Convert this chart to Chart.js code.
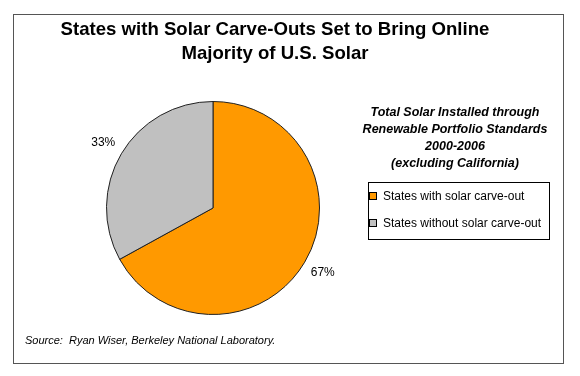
<!DOCTYPE html>
<html>
<head>
<meta charset="utf-8">
<script src="https://cdn.jsdelivr.net/npm/chart.js@4.4.1/dist/chart.umd.min.js"></script>
<style>
  html, body { margin: 0; padding: 0; background: #fff; }
  #wrap { width: 580px; height: 376px; position: relative; }
</style>
</head>
<body>
<div id="wrap"><canvas id="pie" width="580" height="376"></canvas></div>
<script>
// chart data
const categories = ['States with solar carve-out', 'States without solar carve-out'];
const shares = [67, 33];
const sliceColors = ['#FF9900', '#C0C0C0'];
const titleLines = ['States with Solar Carve-Outs Set to Bring Online', 'Majority of U.S. Solar'];
const noteLines = ['Total Solar Installed through', 'Renewable Portfolio Standards', '2000-2006', '(excluding California)'];
const sourceText = 'Source:  Ryan Wiser, Berkeley National Laboratory.';

const FONT = '"Liberation Sans", Arial, sans-serif';

// draws frame, titles, legend and percent labels
const decorations = {
  id: 'decorations',
  beforeDraw(chart) {
    const c = chart.ctx;
    c.save();
    c.fillStyle = '#fff';
    c.fillRect(0, 0, chart.width, chart.height);
    c.strokeStyle = '#555';
    c.lineWidth = 1;
    c.strokeRect(13.5, 14.5, 550, 349);
    c.restore();
  },
  afterDraw(chart) {
    const c = chart.ctx;
    c.save();
    c.fillStyle = '#000';
    c.textAlign = 'center';
    c.textBaseline = 'middle';

    // title
    c.font = 'bold 18.6px ' + FONT;
    titleLines.forEach((t, i) => c.fillText(t, 275, 30 + i * 24));

    // note
    c.font = 'italic bold 12.5px ' + FONT;
    noteLines.forEach((t, i) => c.fillText(t, 455, 113 + i * 17));

    // legend
    c.strokeStyle = '#000';
    c.lineWidth = 1;
    c.strokeRect(368.5, 182.5, 181, 57);
    c.font = '12px ' + FONT;
    c.textAlign = 'left';
    categories.forEach((name, i) => {
      const y = 196 + i * 27;
      c.fillStyle = sliceColors[i];
      c.fillRect(370, y - 3, 6, 6);
      c.strokeStyle = '#000';
      c.strokeRect(369.5, y - 3.5, 7, 7);
      c.fillStyle = '#000';
      c.fillText(name, 383, y + 1);
    });

    // percent labels
    const meta = chart.getDatasetMeta(0);
    c.font = '12px ' + FONT;
    c.textAlign = 'center';
    meta.data.forEach((arc, i) => {
      const mid = (arc.startAngle + arc.endAngle) / 2;
      const d = arc.outerRadius + 21;
      c.fillText(shares[i] + '%', arc.x + Math.cos(mid) * d, arc.y + Math.sin(mid) * d);
    });

    // source
    c.font = 'italic 11px ' + FONT;
    c.textAlign = 'left';
    c.fillText(sourceText, 25, 341);
    c.restore();
  }
};

new Chart(document.getElementById('pie'), {
  type: 'pie',
  data: {
    labels: categories,
    datasets: [{
      data: shares,
      backgroundColor: sliceColors,
      borderColor: '#222',
      borderWidth: 1
    }]
  },
  options: {
    responsive: false,
    animation: false,
    layout: { padding: { top: 101, bottom: 61, left: 106, right: 260 } },
    plugins: {
      legend: { display: false },
      tooltip: { enabled: false }
    }
  },
  plugins: [decorations]
});
</script>
</body>
</html>
